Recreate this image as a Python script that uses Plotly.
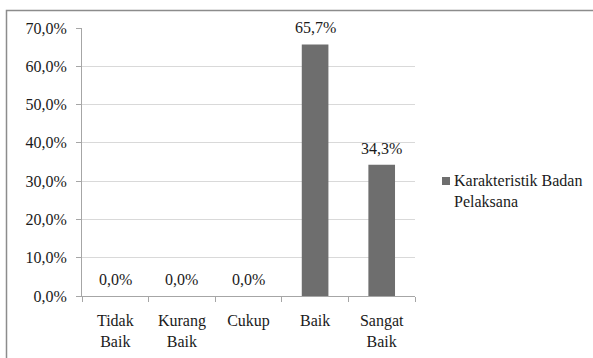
import plotly.graph_objects as go

# Kategori penilaian dan persentase responden
categories = ["Tidak<br>Baik", "Kurang<br>Baik", "Cukup", "Baik", "Sangat<br>Baik"]
values = [0.0, 0.0, 0.0, 65.7, 34.3]
series_name = "Karakteristik Badan<br>Pelaksana"
y_ticks = [0, 10, 20, 30, 40, 50, 60, 70]
y_tick_text = [f"{v},0%" for v in y_ticks]

W, H = 593, 358
L, R, T, B = 82, 178, 28, 62
pw, ph = W - L - R, H - T - B


def px_x(p):
    return (p - L) / pw


def px_y(p):
    return (H - B - p) / ph


SERIF = "Liberation Serif"
TXT = "#1a1a1a"
BAR = "#6e6e6e"
FS = 16
font = dict(family=SERIF, size=FS, color=TXT)

fig = go.Figure()
fig.add_trace(go.Bar(
    x=categories,
    y=values,
    marker=dict(color=BAR, line=dict(width=0)),
    hovertemplate="%{y:.1f}%<extra></extra>",
    showlegend=False,
))

# value labels above each bar
for cat, val in zip(categories, values):
    fig.add_annotation(
        x=cat, y=val, xref="x", yref="y",
        text=f"{val:.1f}%".replace(".", ","),
        showarrow=False, yanchor="bottom", yshift=6,
        font=font,
    )

# chart frame
fig.add_shape(
    type="rect", xref="paper", yref="paper",
    x0=px_x(6.5), x1=px_x(620), y0=px_y(380), y1=px_y(10.5),
    line=dict(color="#8c8c8c", width=1.5), fillcolor="rgba(0,0,0,0)",
)

# series key: swatch + wrapped name
fig.add_shape(
    type="rect", xref="paper", yref="paper",
    x0=px_x(442), x1=px_x(450), y0=px_y(185), y1=px_y(177),
    fillcolor=BAR, line=dict(width=0),
)
fig.add_annotation(
    x=px_x(452), y=px_y(181), xref="paper", yref="paper",
    xanchor="left", yanchor="middle", yshift=-10, align="left",
    text=series_name, showarrow=False, font=font,
)

fig.update_layout(
    width=W,
    height=H,
    margin=dict(l=L, r=R, t=T, b=B, autoexpand=False),
    paper_bgcolor="white",
    plot_bgcolor="white",
    font=font,
    bargap=0.6,
    showlegend=False,
    xaxis=dict(
        showline=True, linecolor="#a6a6a6", linewidth=1,
        ticks="outside", tickson="boundaries", ticklen=5, tickcolor="#a6a6a6",
        showgrid=False, tickfont=font, ticklabelstandoff=10,
    ),
    yaxis=dict(
        range=[0, 70], tickvals=y_ticks, ticktext=y_tick_text,
        showline=True, linecolor="#a6a6a6", linewidth=1,
        ticks="outside", ticklen=5, tickcolor="#a6a6a6",
        showgrid=True, gridcolor="#d9d9d9", gridwidth=1,
        zeroline=False, tickfont=font, ticklabelstandoff=6,
    ),
)

fig.write_html("out.html")
